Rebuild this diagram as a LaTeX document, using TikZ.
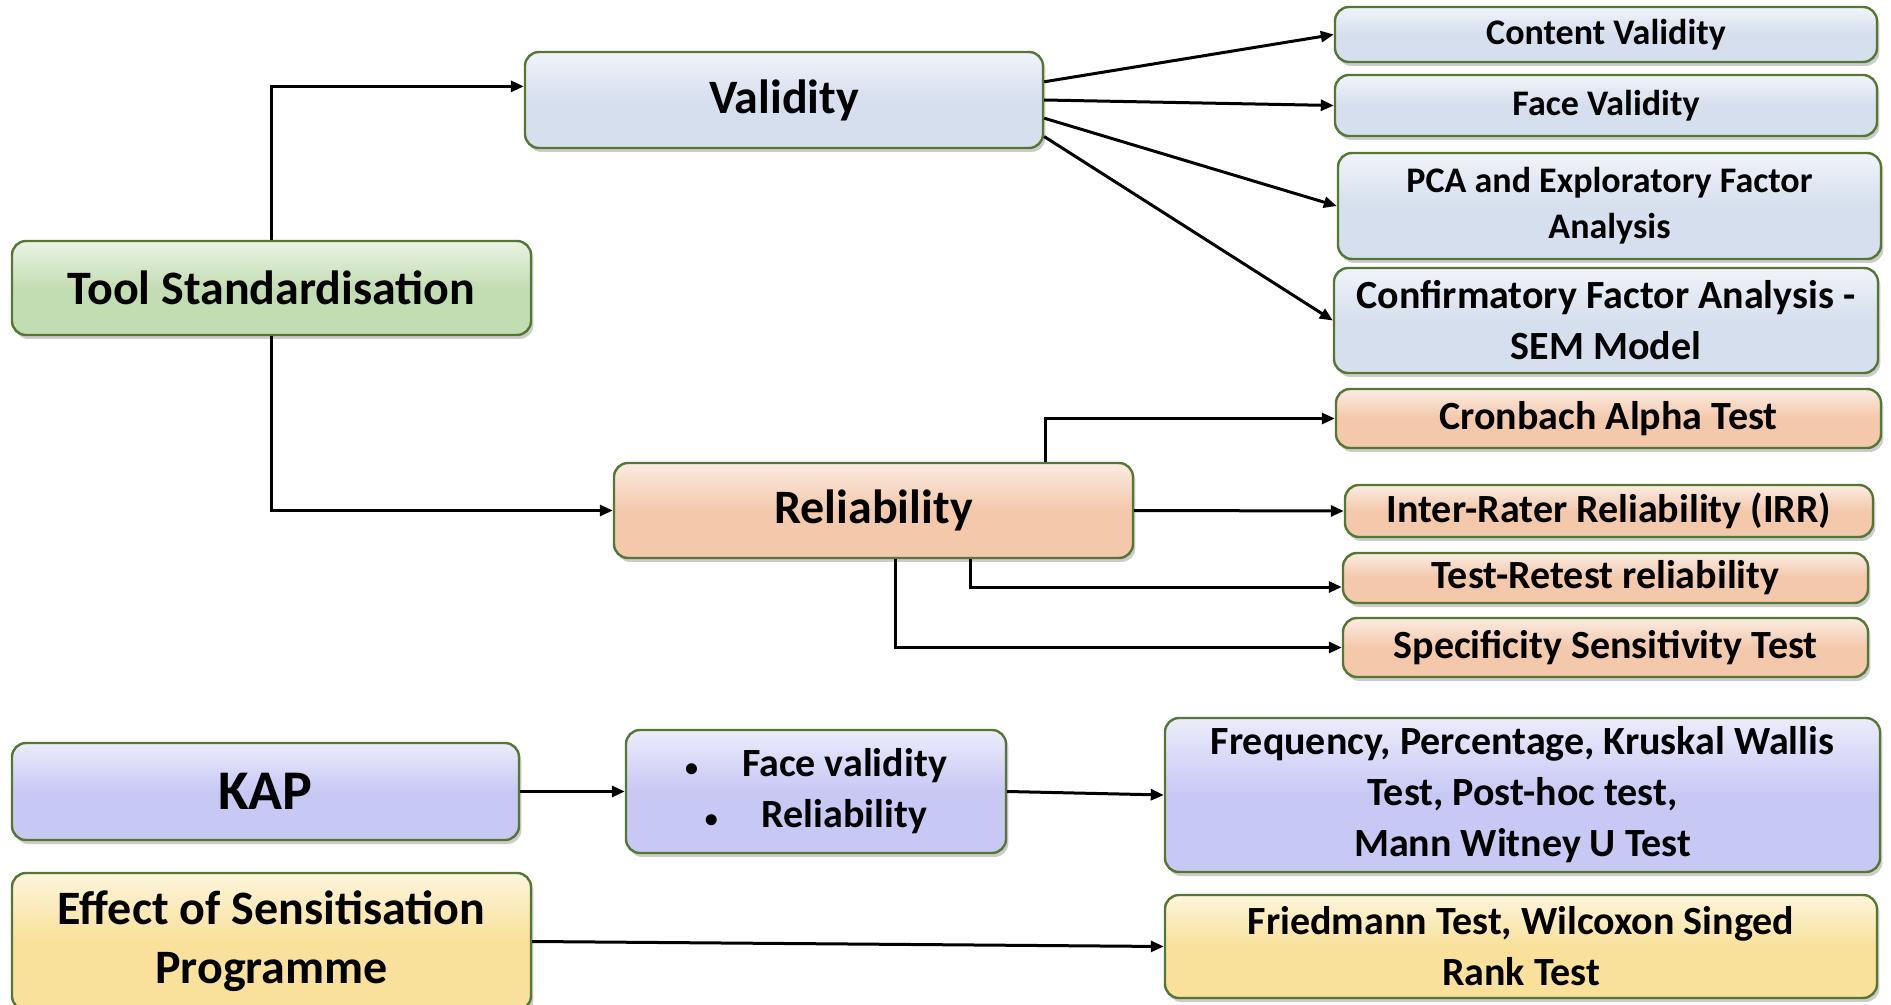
\documentclass[tikz,border=0pt]{standalone}
\usepackage{fontspec}
\setmainfont{Carlito}
\usetikzlibrary{arrows.meta,shadows,calc}
\definecolor{edgegreen}{RGB}{84,120,52}
\definecolor{toolgreen}{RGB}{195,221,178}
\definecolor{valblue}{RGB}{214,223,238}
\definecolor{relpeach}{RGB}{243,200,171}
\definecolor{kapblue}{RGB}{200,200,245}
\definecolor{effyellow}{RGB}{249,225,155}
\newcommand{\dotitem}{{\fontsize{13}{13}\selectfont\textbullet}\hspace{22pt}}

\begin{document}
\begin{tikzpicture}[x=0.5pt,y=-0.5pt,>={Triangle[length=6.5pt,width=5.5pt]},
  box/.style={draw=edgegreen,line width=1.2pt,rounded corners=7pt,align=center,inner sep=1pt,drop shadow={shadow xshift=1.2pt,shadow yshift=-2pt,opacity=.4}},
  tool/.style={box,top color=toolgreen!35!white,bottom color=toolgreen,middle color=toolgreen},
  valbox/.style={box,top color=valblue!35!white,bottom color=valblue,middle color=valblue},
  relbox/.style={box,top color=relpeach!35!white,bottom color=relpeach,middle color=relpeach},
  kapbox/.style={box,top color=kapblue!35!white,bottom color=kapblue,middle color=kapblue},
  effbox/.style={box,top color=effyellow!35!white,bottom color=effyellow,middle color=effyellow},
  bigtxt/.style={font=\bfseries\fontsize{24}{29.5}\selectfont},
  midtxt/.style={font=\bfseries\fontsize{20}{25.5}\selectfont},
  smalltxt/.style={font=\bfseries\fontsize{18}{23}\selectfont},
  link/.style={->,line width=1.5pt}]
\useasboundingbox (0,0) rectangle (1891,1005);
\node[tool,bigtxt,minimum width=259.5pt,minimum height=47pt] (ts) at (271.5,288){Tool Standardisation};
\node[valbox,bigtxt,minimum width=259pt,minimum height=48pt] (val) at (784,100){Validity};
\node[relbox,bigtxt,minimum width=259.5pt,minimum height=47.5pt] (rel) at (873.5,510.5){Reliability};
\node[valbox,smalltxt,minimum width=271pt,minimum height=27.5pt] (cv) at (1606,34.5){Content Validity};
\node[valbox,smalltxt,minimum width=271pt,minimum height=30.5pt] (fv) at (1606,105.5){Face Validity};
\node[valbox,smalltxt,minimum width=271.5pt,minimum height=53pt] (pca) at (1609.5,206){PCA and Exploratory Factor\\Analysis};
\node[valbox,midtxt,minimum width=272pt,minimum height=52.5pt] (cfa) at (1606,320.5){Confirmatory Factor Analysis -\\SEM Model};
\node[relbox,midtxt,minimum width=272.5pt,minimum height=29.5pt] (cron) at (1608.5,418.5){Cronbach Alpha Test};
\node[relbox,midtxt,minimum width=264pt,minimum height=26pt] (irr) at (1609,511){Inter-Rater Reliability (IRR)};
\node[relbox,midtxt,minimum width=262.5pt,minimum height=25pt] (tr) at (1605.5,578){Test-Retest reliability};
\node[relbox,midtxt,minimum width=262.5pt,minimum height=29.5pt] (spec) at (1605.5,647.5){Specificity Sensitivity Test};
\node[kapbox,font=\bfseries\fontsize{28}{33}\selectfont,minimum width=253.5pt,minimum height=48.5pt] (kap) at (265.5,791.5){KAP};
\node[kapbox,midtxt,minimum width=190pt,minimum height=61.5pt] (fr) at (816,791.5){\dotitem Face validity\\\dotitem Reliability};
\node[kapbox,midtxt,minimum width=357.5pt,minimum height=77pt] (freq) at (1522.5,795){Frequency, Percentage, Kruskal Wallis\\Test, Post-hoc test,\\Mann Witney U Test};
\node[effbox,bigtxt,minimum width=259.5pt,minimum height=68.5pt] (eff) at (271.5,941.5){Effect of Sensitisation\\Programme};
\node[effbox,midtxt,minimum width=356pt,minimum height=51.5pt] (fried) at (1521,946.5){Friedmann Test, Wilcoxon Singed\\Rank Test};
\draw[link] (ts.north) |- (val.177);\draw[link] (ts.south) |- (rel.west);
\draw[link] (val.4) -- (cv.west);\draw[link] (val.east) -- (fv.west);\draw[link] (val.-4) -- (pca.west);\draw[link] (val.-8) -- (cfa.west);
\draw[link] ($(rel.north)+(172,0)$) |- (cron.west);\draw[link] (rel.east) -- (irr.west);
\draw[link] ($(rel.south)+(97,0)$) |- ($(tr.west)+(0,9)$);\draw[link] ($(rel.south)+(22,0)$) |- (spec.west);
\draw[link] (kap.east) -- (fr.west);\draw[link] (fr.east) -- (freq.west);\draw[link] (eff.east) -- (fried.west);
\end{tikzpicture}
\end{document}
